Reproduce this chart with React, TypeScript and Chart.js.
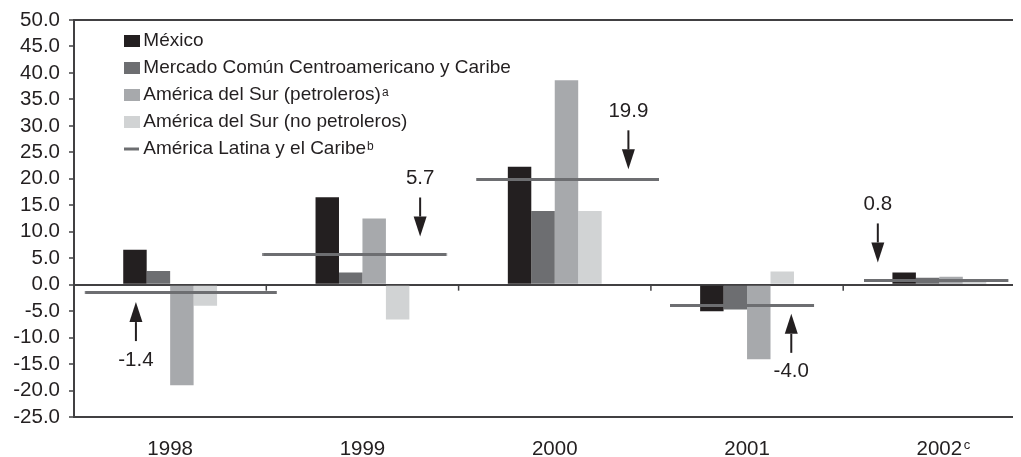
import React, { useEffect, useRef } from 'react';
import { Chart, registerables } from 'chart.js';

Chart.register(...registerables);

// ---- data ----
const years = ['1998', '1999', '2000', '2001', '2002'];
const yearNotes = ['', '', '', '', 'c'];
const mexico = [6.6, 16.5, 22.3, -5.0, 2.3];
const mercadoComun = [2.6, 2.3, 13.9, -4.7, 1.3];
const surPetroleros = [-19.0, 12.5, 38.6, -14.1, 1.5];
const surNoPetroleros = [-4.0, -6.6, 13.9, 2.5, 0.6];
const americaLatina = [-1.4, 5.7, 19.9, -4.0, 0.8];
const seriesNames = [
  'México',
  'Mercado Común Centroamericano y Caribe',
  'América del Sur (petroleros)',
  'América del Sur (no petroleros)',
  'América Latina y el Caribe',
];
const seriesNotes = ['', '', 'a', '', 'b'];
const yMin = -25;
const yMax = 50;
const yStep = 5;

// ---- styles ----
const FONT = '"Liberation Sans", Arial, Helvetica, sans-serif';
const TEXT = '#231f20';
const AXIS = '#414042';
const barColors = ['#231f20', '#6d6e71', '#a7a9ac', '#d1d3d4'];
const lineColor = '#6d6e71';
const segHalfWidths = [96, 92, 91.5, 72, 72];
const segOffsets = [10.75, -7.75, 13, -5, -3];
const SEG_THICK = 3;
const arrowOffsets = [-0.178, 0.3, 0.383, 0.23, -0.32];
const arrowDirs = ['up', 'down', 'down', 'up', 'down'];
const arrowGaps = [10, 18, 10, 8, 18];
const ARROW_LEN = 39;
const TICK_FONT = 20.5;
const LEGEND_FONT = 19;

function makeSegmentImages() {
  return segHalfWidths.map((r, i) => {
    const off = segOffsets[i];
    const half = r + Math.abs(off);
    const c = document.createElement('canvas');
    c.width = Math.ceil(2 * half);
    c.height = SEG_THICK;
    const g = c.getContext('2d') as CanvasRenderingContext2D;
    g.fillStyle = lineColor;
    g.fillRect(c.width / 2 + off - r, 0, 2 * r, SEG_THICK);
    return c;
  });
}

const decorations = {
  id: 'decorations',
  afterDraw(chart: any) {
    const { ctx, chartArea } = chart;
    const x = chart.scales.x;
    const y = chart.scales.y;
    const zeroY = y.getPixelForValue(0);
    const catW = x.getPixelForValue(1) - x.getPixelForValue(0);
    ctx.save();

    // category tick marks on the zero line
    ctx.strokeStyle = AXIS;
    ctx.lineWidth = 1.5;
    for (let i = 1; i < years.length; i++) {
      const px = x.getPixelForValue(i) - catW / 2;
      ctx.beginPath();
      ctx.moveTo(px, zeroY);
      ctx.lineTo(px, zeroY + 6);
      ctx.stroke();
    }

    // arrows with values of the regional line
    ctx.fillStyle = TEXT;
    ctx.strokeStyle = TEXT;
    ctx.font = `${TICK_FONT}px ${FONT}`;
    ctx.textAlign = 'center';
    ctx.textBaseline = 'middle';
    americaLatina.forEach((v, i) => {
      const ax = x.getPixelForValue(i) + arrowOffsets[i] * catW;
      const ly = y.getPixelForValue(v);
      const up = arrowDirs[i] === 'up';
      const s = up ? 1 : -1;
      const tip = ly + s * arrowGaps[i];
      const tail = tip + s * ARROW_LEN;
      const headLen = 20;
      ctx.lineWidth = 2;
      ctx.beginPath();
      ctx.moveTo(ax, tail);
      ctx.lineTo(ax, tip + s * headLen);
      ctx.stroke();
      ctx.beginPath();
      ctx.moveTo(ax, tip);
      ctx.lineTo(ax - 6.5, tip + s * headLen);
      ctx.lineTo(ax + 6.5, tip + s * headLen);
      ctx.closePath();
      ctx.fill();
      ctx.fillText(v.toFixed(1), ax, tail + s * 19);
    });

    // superscripts on category labels
    ctx.textAlign = 'left';
    ctx.textBaseline = 'top';
    years.forEach((yr, i) => {
      if (!yearNotes[i]) return;
      ctx.font = `${TICK_FONT}px ${FONT}`;
      const w = ctx.measureText(yr).width;
      ctx.font = `13px ${FONT}`;
      ctx.fillText(yearNotes[i], x.getPixelForValue(i) + w / 2 + 1.5, chartArea.bottom + 22);
    });

    // legend
    const lx = chartArea.left + 50;
    const ly0 = chartArea.top + 21;
    const rowH = 27;
    seriesNames.forEach((name, i) => {
      const ry = ly0 + i * rowH;
      if (i < barColors.length) {
        ctx.fillStyle = barColors[i];
        ctx.fillRect(lx, ry - 6, 16, 12);
      } else {
        ctx.strokeStyle = lineColor;
        ctx.lineWidth = 3;
        ctx.beginPath();
        ctx.moveTo(lx, ry);
        ctx.lineTo(lx + 15, ry);
        ctx.stroke();
      }
      ctx.fillStyle = TEXT;
      ctx.font = `${LEGEND_FONT}px ${FONT}`;
      ctx.textBaseline = 'middle';
      ctx.fillText(name, lx + 19.3, ry);
      if (seriesNotes[i]) {
        const w = ctx.measureText(name).width;
        ctx.font = `12px ${FONT}`;
        ctx.textBaseline = 'top';
        ctx.fillText(seriesNotes[i], lx + 19.3 + w + 1, ry - 8);
      }
    });
    ctx.restore();
  },
};

export default function App() {
  const ref = useRef<HTMLCanvasElement>(null);
  useEffect(() => {
    document.body.style.overflow = 'hidden';
    const barSeries = [mexico, mercadoComun, surPetroleros, surNoPetroleros];
    const segImages = makeSegmentImages();
    const chart = new Chart(ref.current as HTMLCanvasElement, {
      type: 'bar',
      data: {
        labels: years,
        datasets: [
          {
            type: 'line',
            label: seriesNames[4],
            data: americaLatina,
            showLine: false,
            pointStyle: segImages,
            pointRadius: 5,
            pointBorderWidth: 0,
            pointBorderColor: lineColor,
            pointBackgroundColor: lineColor,
            clip: false,
            order: 0,
          } as any,
          ...barSeries.map((d, i) => ({
            type: 'bar',
            label: seriesNames[i],
            data: d,
            backgroundColor: barColors[i],
            borderWidth: 0,
            categoryPercentage: 0.488,
            barPercentage: 1,
            order: 1,
          })),
        ],
      },
      options: {
        responsive: false,
        animation: false,
        devicePixelRatio: 1,
        events: [],
        layout: { autoPadding: false, padding: { top: 12, right: 4.5, left: 0, bottom: 0 } },
        plugins: { legend: { display: false }, tooltip: { enabled: false } },
        scales: {
          x: {
            offset: true,
            grid: { display: true, drawOnChartArea: false, drawTicks: false, offset: true },
            border: { display: true, color: AXIS, width: 2 },
            ticks: {
              color: TEXT,
              font: { family: FONT, size: TICK_FONT },
              padding: 20,
              maxRotation: 0,
              autoSkip: false,
            },
            afterFit: (s: any) => {
              s.height = 40;
              s.paddingLeft = 0;
              s.paddingRight = 0;
            },
          },
          y: {
            min: yMin,
            max: yMax,
            ticks: {
              stepSize: yStep,
              autoSkip: false,
              color: TEXT,
              font: { family: FONT, size: TICK_FONT },
              padding: 9,
              callback: (v: any) => Number(v).toFixed(1),
            },
            grid: {
              color: (c: any) =>
                c.tick && (c.tick.value === 0 || c.tick.value === yMax) ? AXIS : 'rgba(0,0,0,0)',
              lineWidth: 2,
              tickColor: AXIS,
              tickWidth: 1.5,
              tickLength: 5,
              drawTicks: true,
            },
            border: { display: true, color: AXIS, width: 2 },
            afterFit: (s: any) => {
              s.width = 66;
              s.paddingTop = 0;
              s.paddingBottom = 0;
            },
          },
        },
      },
      plugins: [decorations],
    } as any);
    return () => chart.destroy();
  }, []);
  return (
    <div style={{ width: 1013, height: 449, overflow: 'hidden' }}>
      <canvas ref={ref} width={1032} height={449} style={{ display: 'block', width: 1032, height: 449 }} />
    </div>
  );
}
